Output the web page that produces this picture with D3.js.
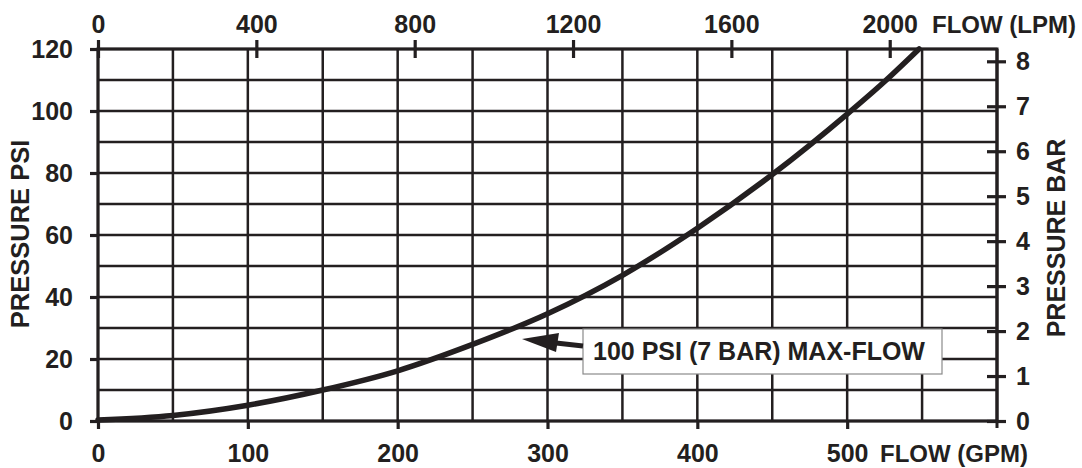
<!DOCTYPE html>
<html>
<head>
<meta charset="utf-8">
<script src="https://cdn.jsdelivr.net/npm/d3@7"></script>
<style>
  body { margin: 0; background: #fff; }
  svg text { font-family: "Liberation Sans", Arial, sans-serif !important; font-weight: 700 !important; fill: #231f20; }
</style>
</head>
<body>
<div id="chart"></div>
<script>
const width = 1082;
const height = 468;
const ink = "#231f20";

// data
const flowGpm = [0, 50, 100, 150, 200, 250, 300, 350, 400, 450, 500, 525, 548];
const pressurePsi = [0.3, 1.8, 5.1, 10, 16.2, 24.7, 34.6, 47, 62.2, 79.5, 99, 109.5, 120];

const gpmTicks = [0, 100, 200, 300, 400, 500];
const lpmTicks = [0, 400, 800, 1200, 1600, 2000];
const psiTicks = [0, 20, 40, 60, 80, 100, 120];
const barTicks = [0, 1, 2, 3, 4, 5, 6, 7, 8];
const gridGpm = [0, 50, 100, 150, 200, 250, 300, 350, 400, 450, 500, 550];
const gridPsi = [0, 10, 20, 30, 40, 50, 60, 70, 80, 90, 100, 110, 120];

const annotation = "100 PSI (7 BAR) MAX-FLOW";

const LPM_PER_GPM = 3.785;
const PSI_PER_BAR = 14.5038;

const svg = d3.select("#chart")
  .append("svg")
  .attr("width", width)
  .attr("height", height);

const x = d3.scaleLinear().domain([0, 600]).range([98, 997]);
const y = d3.scaleLinear().domain([0, 120]).range([421, 49]);
const xLpm = d3.scaleLinear().domain([0, 600 * LPM_PER_GPM]).range(x.range());
const yBar = d3.scaleLinear().domain([0, 120 / PSI_PER_BAR]).range(y.range());

// grid
const grid = svg.append("g").attr("stroke", ink).attr("stroke-width", 2.5);
grid.selectAll("line.v")
  .data(gridGpm)
  .join("line")
  .attr("class", "v")
  .attr("x1", d => x(d)).attr("x2", d => x(d))
  .attr("y1", y(0)).attr("y2", y(120));
grid.selectAll("line.h")
  .data(gridPsi)
  .join("line")
  .attr("class", "h")
  .attr("x1", x(0)).attr("x2", x(600))
  .attr("y1", d => y(d)).attr("y2", d => y(d));

// border
svg.append("rect")
  .attr("x", x(0)).attr("y", y(120))
  .attr("width", x(600) - x(0)).attr("height", y(0) - y(120))
  .attr("fill", "none").attr("stroke", ink).attr("stroke-width", 3);
svg.append("line")
  .attr("x1", x(600)).attr("x2", x(600))
  .attr("y1", y(120)).attr("y2", y(0) + 7)
  .attr("stroke", ink).attr("stroke-width", 3);

function styleAxis(g) {
  g.attr("font-family", "Liberation Sans").attr("font-weight", "bold").attr("font-size", 25);
  g.select(".domain").remove();
  g.selectAll(".tick line").attr("stroke", ink).attr("stroke-width", 3.2);
  g.selectAll(".tick text")
    .attr("fill", ink)
    .attr("font-weight", "bold")
    .style("font-size", "25px");
}

const fmt = d3.format("d");

// left axis (psi)
svg.append("g")
  .attr("transform", `translate(${x(0)},0)`)
  .call(d3.axisLeft(y).tickValues(psiTicks).tickFormat(fmt).tickSize(8).tickPadding(17))
  .call(styleAxis);

// bottom axis (gpm)
svg.append("g")
  .attr("transform", `translate(0,${y(0)})`)
  .call(d3.axisBottom(x).tickValues(gpmTicks).tickFormat(fmt).tickSize(8).tickPadding(15))
  .call(styleAxis);

// top axis (lpm), ticks cross the line
svg.append("g")
  .attr("transform", `translate(0,${y(120)})`)
  .call(d3.axisTop(xLpm).tickValues(lpmTicks).tickFormat(fmt).tickSize(9).tickPadding(7.5))
  .call(styleAxis)
  .call(g => g.selectAll(".tick line").attr("y1", 9));

// right axis (bar), ticks cross the line
svg.append("g")
  .attr("transform", `translate(${x(600)},0)`)
  .call(d3.axisRight(yBar).tickValues(barTicks).tickFormat(fmt).tickSize(9).tickPadding(10))
  .call(styleAxis)
  .call(g => g.selectAll(".tick line").attr("x1", -10));

// axis titles
svg.append("text")
  .attr("x", 1028).attr("y", 462)
  .attr("text-anchor", "end")
  .style("font-size", "24px")
  .text("FLOW (GPM)");
svg.append("text")
  .attr("x", 1076).attr("y", 32.5)
  .attr("text-anchor", "end")
  .style("font-size", "24px")
  .text("FLOW (LPM)");
svg.append("text")
  .attr("transform", "translate(29,234) rotate(-90)")
  .attr("text-anchor", "middle")
  .style("font-size", "25.5px")
  .text("PRESSURE PSI");
svg.append("text")
  .attr("transform", "translate(1065,238) rotate(-90)")
  .attr("text-anchor", "middle")
  .style("font-size", "25px")
  .text("PRESSURE BAR");

// curve
const curveData = flowGpm.map((q, i) => ({ q, p: pressurePsi[i] }));
const line = d3.line()
  .x(d => x(d.q))
  .y(d => y(d.p))
  .curve(d3.curveMonotoneX);
svg.append("path")
  .datum(curveData)
  .attr("d", line)
  .attr("fill", "none")
  .attr("stroke", ink)
  .attr("stroke-width", 5.5)
  .attr("stroke-linecap", "round");

// annotation box + arrow
svg.append("rect")
  .attr("x", 583).attr("y", 329)
  .attr("width", 359).attr("height", 45)
  .attr("fill", "#fff")
  .attr("stroke", "#8a8a8a")
  .attr("stroke-width", 1.2);
svg.append("text")
  .attr("x", 593).attr("y", 359.5)
  .style("font-size", "25px")
  .text(annotation);

svg.append("line")
  .attr("x1", 583).attr("y1", 346)
  .attr("x2", 556).attr("y2", 343)
  .attr("stroke", ink).attr("stroke-width", 5);
svg.append("path")
  .attr("d", "M522,339 L559,333 L556,352 Z")
  .attr("fill", ink);
</script>
</body>
</html>
